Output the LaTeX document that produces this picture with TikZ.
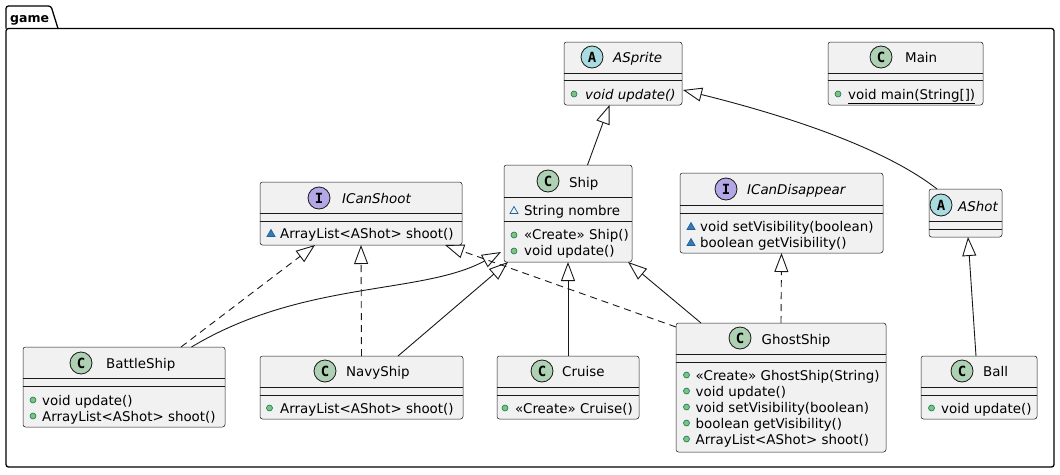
\documentclass[tikz,border=0pt]{standalone}
\usepackage{fontspec}
\setmainfont{DejaVu Sans}
\newfontfamily\iconfont{DejaVu Sans Mono}
\usetikzlibrary{arrows.meta,calc}
\definecolor{boxfill}{HTML}{F1F1F1}
\definecolor{umlline}{HTML}{181818}
\definecolor{cicon}{HTML}{ADD1B2}
\definecolor{aicon}{HTML}{A9DCDF}
\definecolor{iicon}{HTML}{B4A7E5}
\definecolor{pubfill}{HTML}{84BE84}
\definecolor{pubdraw}{HTML}{038048}
\definecolor{pkgfill}{HTML}{4177AF}
\definecolor{pkgdraw}{HTML}{1963A0}
\tikzset{
  classbox/.style={draw=umlline, fill=boxfill, line width=0.5pt, rounded corners=2.5pt, anchor=north west, inner sep=0pt, outer sep=0pt},
  sepline/.style={draw=umlline, line width=0.5pt},
  icon/.style={circle, draw=umlline, line width=0.8pt, minimum size=22pt, inner sep=0pt, font=\fontsize{14}{14}\selectfont\iconfont\bfseries},
  txt/.style={anchor=base west, inner sep=0pt, font=\fontsize{13.4}{16}\selectfont},
  itxt/.style={anchor=base west, inner sep=0pt, font=\fontsize{13.4}{16}\selectfont\itshape},
  ext/.style={draw=umlline, line width=0.9pt, -{Triangle[open, length=19pt, width=14pt]}},
  realize/.style={ext, dash pattern=on 7pt off 5pt},
  pkg/.style={draw=black, line width=1.3pt, rounded corners=2.5pt},
}
\newcommand\umlclass[5]{\node[classbox, minimum width=#4pt, minimum height=#5pt] (#1) at (#2,#3) {};}
\newcommand\umlsep[2]{\draw[sepline] ($(#1.north west)+(0,#2)$) -- ($(#1.north east)+(0,#2)$);}
\newcommand\pubdot[1]{\filldraw[fill=pubfill, draw=pubdraw, line width=0.6pt] (#1) circle[radius=3];}
\newcommand\pkgtri[2]{\draw[draw=pkgdraw, line width=0.7pt, #2] ($(#1)+(-4,3.5)$) -- ($(#1)+(4,3.5)$) -- ($(#1)+(0,-3.5)$) -- cycle;}
\begin{document}
\begin{tikzpicture}[x=1pt,y=-1pt]
\useasboundingbox (0,0) rectangle (1060,474);
% package
\draw[pkg] (6,28.5) rectangle (1054,467);
\draw[pkg] (6,28.5) -- (6,6) -- (51,6) -- (58,28.5);
\node[anchor=base west, inner sep=0pt, font=\fontsize{12.5}{14}\selectfont\bfseries] (pkglabel) at (10,22) {game};

% ASprite
\umlclass{asprite}{564}{42}{118}{63}
\umlsep{asprite}{31}\umlsep{asprite}{38}
\node[icon, fill=aicon] (asprite-ic) at (592,57) {A};
\node[itxt] (asprite-n) at (613,62) {ASprite};
\pubdot{574,94}
\node[itxt] (asprite-m1) at (585,99) {void update()};

% Main
\umlclass{main}{828}{42}{155}{63}
\umlsep{main}{31}\umlsep{main}{38}
\node[icon, fill=cicon] (main-ic) at (881,57) {C};
\node[txt] (main-n) at (905,62) {Main};
\pubdot{838,94}
\node[txt] (main-m1) at (848,99) {\underline{void main(String[])}};

% Ship
\umlclass{ship}{504}{165}{128}{97}
\umlsep{ship}{32}\umlsep{ship}{56}
\node[icon, fill=cicon] (ship-ic) at (548,181) {C};
\node[txt] (ship-n) at (569,187) {Ship};
\pkgtri{514,210}{fill=none}
\node[txt] (ship-a1) at (524,215) {String nombre};
\pubdot{514,235}
\node[txt] (ship-m1) at (524,239) {«Create» Ship()};
\pubdot{514,251}
\node[txt] (ship-m2) at (524,255) {void update()};

% ICanShoot
\umlclass{icanshoot}{260}{182}{202}{63}
\umlsep{icanshoot}{31}\umlsep{icanshoot}{39}
\node[icon, fill=iicon] (icanshoot-ic) at (319,198) {I};
\node[itxt] (icanshoot-n) at (342,203) {ICanShoot};
\pkgtri{271,233}{fill=pkgfill}
\node[txt] (icanshoot-m1) at (280,238) {ArrayList<AShot> shoot()};

% ICanDisappear
\umlclass{icandisappear}{680}{173}{203}{80}
\umlsep{icandisappear}{32}\umlsep{icandisappear}{40}
\node[icon, fill=iicon] (icandisappear-ic) at (726,189) {I};
\node[itxt] (icandisappear-n) at (747,194) {ICanDisappear};
\pkgtri{691,226}{fill=pkgfill}
\node[txt] (icandisappear-m1) at (700,231) {void setVisibility(boolean)};
\pkgtri{691,242}{fill=pkgfill}
\node[txt] (icandisappear-m2) at (700,247) {boolean getVisibility()};

% AShot
\umlclass{ashot}{929}{189}{73}{48}
\umlsep{ashot}{32}\umlsep{ashot}{40}
\node[icon, fill=aicon] (ashot-ic) at (941,205) {A};
\node[itxt] (ashot-n) at (958,211) {AShot};

% BattleShip
\umlclass{battleship}{23}{347}{202}{80}
\umlsep{battleship}{31}\umlsep{battleship}{39}
\node[icon, fill=cicon] (battleship-ic) at (81,363) {C};
\node[txt] (battleship-n) at (106,368) {BattleShip};
\pubdot{33,400}
\node[txt] (battleship-m1) at (42,405) {void update()};
\pubdot{33,416}
\node[txt] (battleship-m2) at (42,421) {ArrayList<AShot> shoot()};

% NavyShip
\umlclass{navyship}{260}{356}{203}{63}
\umlsep{navyship}{31}\umlsep{navyship}{39}
\node[icon, fill=cicon] (navyship-ic) at (325,371) {C};
\node[txt] (navyship-n) at (346,376) {NavyShip};
\pubdot{269.5,408}
\node[txt] (navyship-m1) at (280,413) {ArrayList<AShot> shoot()};

% Cruise
\umlclass{cruise}{497}{356}{142}{63}
\umlsep{cruise}{31}\umlsep{cruise}{39}
\node[icon, fill=cicon] (cruise-ic) at (542,371) {C};
\node[txt] (cruise-n) at (562,376) {Cruise};
\pubdot{505,408}
\node[txt] (cruise-m1) at (515,413) {«Create» Cruise()};

% GhostShip
\umlclass{ghostship}{676}{323}{210}{129}
\umlsep{ghostship}{31}\umlsep{ghostship}{39}
\node[icon, fill=cicon] (ghostship-ic) at (740,338) {C};
\node[txt] (ghostship-n) at (761.5,344) {GhostShip};
\pubdot{686.5,375}
\node[txt] (ghostship-m1) at (695.5,380) {«Create» GhostShip(String)};
\pubdot{686.5,391}
\node[txt] (ghostship-m2) at (695.5,396) {void update()};
\pubdot{686.5,407}
\node[txt] (ghostship-m3) at (695.5,412) {void setVisibility(boolean)};
\pubdot{686.5,423}
\node[txt] (ghostship-m4) at (695.5,428) {boolean getVisibility()};
\pubdot{686.5,439}
\node[txt] (ghostship-m5) at (695.5,444) {ArrayList<AShot> shoot()};

% Ball
\umlclass{ball}{921}{356}{116}{63}
\umlsep{ball}{31}\umlsep{ball}{39}
\node[icon, fill=cicon] (ball-ic) at (962,371) {C};
\node[txt] (ball-n) at (983,376) {Ball};
\pubdot{931.5,408}
\node[txt] (ball-m1) at (941,413) {void update()};

% connectors
\draw[ext] ([xshift=83.5pt]ship.north west) -- ([xshift=45.5pt]asprite.south west);
\draw[ext] ([xshift=8pt]ashot.north west) .. controls (882,146) and (780,114) .. ([xshift=1pt,yshift=15pt]asprite.south east);
\draw[ext] ([xshift=55pt]ball.north west) -- ([xshift=39pt]ashot.south west);
\draw[realize] ([xshift=158pt]battleship.north west) -- ([xshift=55pt]icanshoot.south west);
\draw[ext] ([xshift=168.5pt]battleship.north west) .. controls (303,280) and (422,295) .. ([xshift=-3pt,yshift=10pt]ship.south west);
\draw[realize] (navyship.north) -- (icanshoot.south);
\draw[ext] ([xshift=138pt]navyship.north west) -- ([xshift=4pt]ship.south west);
\draw[ext] ([xshift=71pt]cruise.north west) -- ([xshift=64pt]ship.south west);
\draw[ext] ([xshift=25pt]ghostship.north west) -- ([xshift=-4pt]ship.south east);
\draw[realize] ([yshift=-4pt]ghostship.north west) -- ([xshift=-17pt]icanshoot.south east);
\draw[realize] (ghostship.north) -- (icandisappear.south);
\end{tikzpicture}
\end{document}
